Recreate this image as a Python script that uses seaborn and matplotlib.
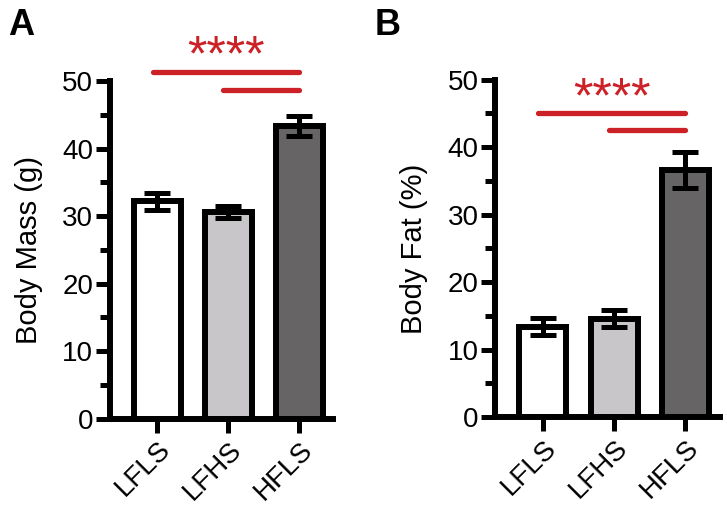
import pandas as pd
import matplotlib.pyplot as plt
import seaborn as sns
from matplotlib.ticker import MultipleLocator

groups = ["LFLS", "LFHS", "HFLS"]
bar_colors = ["#ffffff", "#c8c6c8", "#676465"]

mass_mean = [32.2, 30.6, 43.4]
mass_sem = [1.3, 0.9, 1.5]
fat_mean = [13.4, 14.6, 36.6]
fat_sem = [1.3, 1.2, 2.7]

# significance bars: (from group, to group, height)
mass_sig = [(0, 2, 51.4), (1, 2, 48.7)]
fat_sig = [(0, 2, 45.0), (1, 2, 42.5)]

RED = "#cc2127"
LW = 4.3

sns.set_theme(style="ticks")
plt.rcParams["font.family"] = ["Liberation Sans", "DejaVu Sans"]
plt.rcParams.update({"text.color": "black", "axes.labelcolor": "black",
                     "axes.edgecolor": "black", "xtick.color": "black",
                     "ytick.color": "black"})


def draw_panel(ax, means, sems, sig, ylabel):
    df = pd.DataFrame({"group": groups, "value": means})
    sns.barplot(data=df, x="group", y="value", hue="group", palette=bar_colors,
                width=0.66, edgecolor="black", linewidth=LW, errorbar=None,
                legend=False, ax=ax, zorder=2)
    ax.errorbar(range(len(groups)), means, yerr=sems, fmt="none", ecolor="black",
                elinewidth=3.6, capsize=9.5, capthick=3.6, zorder=3)

    ax.set_xlim(-0.67, 2.48)
    ax.set_ylim(0, 50)
    ax.yaxis.set_major_locator(MultipleLocator(10))
    ax.yaxis.set_minor_locator(MultipleLocator(5))
    sns.despine(ax=ax)
    for s in ["left", "bottom"]:
        ax.spines[s].set_linewidth(LW)
        ax.spines[s].set_capstyle("projecting")
    ax.tick_params(axis="y", which="major", length=10, width=3.6, labelsize=20, pad=2)
    ax.tick_params(axis="y", which="minor", length=7, width=3.6)
    ax.tick_params(axis="x", length=10, width=3.6, labelsize=20, pad=3)
    plt.setp(ax.get_xticklabels(), rotation=45, ha="right", rotation_mode="anchor")
    ax.set_xlabel("")
    ax.set_ylabel(ylabel, fontsize=21, labelpad=14)

    for x0, x1, y in sig:
        ax.plot([x0 - 0.07, x1], [y, y], color=RED, lw=3.8,
                solid_capstyle="round", clip_on=False)
    top = max(y for _, _, y in sig)
    ax.annotate("****", xy=(0.97, top), xytext=(0, 1), textcoords="offset points",
                ha="center", va="baseline", color=RED, fontsize=36,
                annotation_clip=False)


fig = plt.figure(figsize=(7.27, 5.18), dpi=100)
ax_a = fig.add_axes([0.1513, 0.192, 0.307, 0.651])
ax_b = fig.add_axes([0.681, 0.195, 0.309, 0.651])

draw_panel(ax_a, mass_mean, mass_sem, mass_sig, "Body Mass (g)")
draw_panel(ax_b, fat_mean, fat_sem, fat_sig, "Body Fat (%)")

fig.text(0.011, 0.985, "A", fontsize=26, fontweight="bold", va="top")
fig.text(0.515, 0.985, "B", fontsize=26, fontweight="bold", va="top")

fig.savefig("out.png", dpi=100)
